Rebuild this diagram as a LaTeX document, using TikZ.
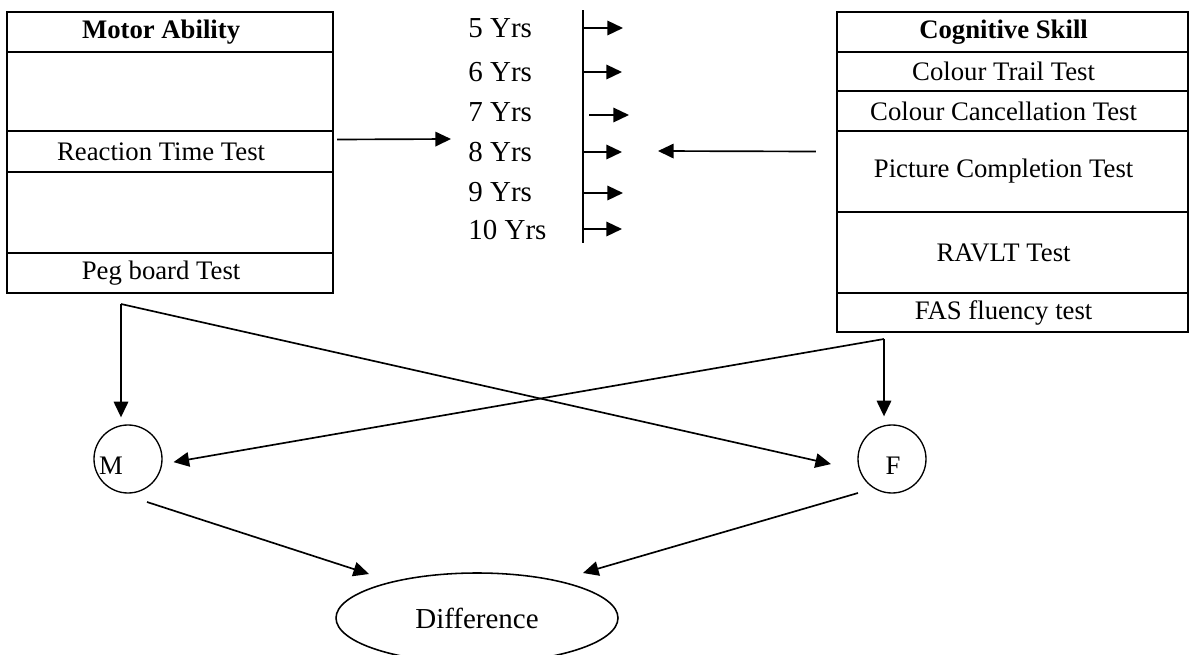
\documentclass[tikz,border=0pt]{standalone}
\usepackage{fontspec}
\setmainfont{Liberation Serif}
\usetikzlibrary{arrows.meta,shapes.geometric}
\newcommand{\pxu}{0.449pt}

\begin{document}
\begin{tikzpicture}[x=\pxu, y=-\pxu,
   every node/.style={font=\fontsize{12}{14}\selectfont},
   cell/.style 2 args={draw, line width=1.1pt, inner sep=0pt,
                       minimum width=#1*\pxu, minimum height=#2*\pxu,
                       execute at end node={\hspace{8pt}}},
   circ/.style={draw, circle, line width=0.6pt, inner sep=0pt, minimum size=68*\pxu},
   ell/.style={draw, ellipse, line width=0.7pt, inner sep=0pt,
               minimum width=282*\pxu, minimum height=90*\pxu,
               font=\fontsize{13}{15}\selectfont},
   arr/.style={-{Triangle[length=7pt,width=6.5pt]}, line width=0.75pt}]

\useasboundingbox (0,0) rectangle (1191,655);

% motor ability table
\node[cell={326}{40}] (motor) at (170,32) {\textbf{Motor Ability}};
\node[cell={326}{79}] (motA) at (170,91.5) {};
\node[cell={326}{41}] (react) at (170,151.5) {Reaction Time Test};
\node[cell={326}{81}] (motB) at (170,212.5) {};
\node[cell={326}{40}] (peg) at (170,273) {Peg board Test};

% cognitive skill table
\node[cell={351}{40}] (cog) at (1012.5,32) {\textbf{Cognitive Skill}};
\node[cell={351}{39}] (trail) at (1012.5,71.5) {Colour Trail Test};
\node[cell={351}{40}] (cancel) at (1012.5,111) {Colour Cancellation Test};
\node[cell={351}{81}] (pict) at (1012.5,171.5) {Picture Completion Test};
\node[cell={351}{81}] (ravlt) at (1012.5,252.5) {RAVLT Test};
\node[cell={351}{39}] (fas) at (1012.5,312.5) {FAS fluency test};

% age groups
\coordinate (axT) at (583,10);
\coordinate (axB) at (583,243);
\draw[line width=0.9pt] (axT) -- (axB);
\foreach \n/\yl/\ya/\xs/\xe in {5/28/28/583/623, 6/72/72/583/622, 7/112/115/589/629,
                               8/152/152/582/622, 9/192/193/583/623, 10/230/229/583/622}{
  \node[anchor=west, inner sep=0pt, font=\fontsize{13}{15}\selectfont] (yr\n) at (468,\yl) {\n\ Yrs};
  \coordinate (s\n) at (\xs,\ya);
  \coordinate (e\n) at (\xe,\ya);
  \draw[arr] (s\n) -- (e\n);
}

\coordinate (midL) at (451,139);
\coordinate (midR) at (658,151);
\draw[arr] ([shift={(3,-12)}]react.east) -- (midL);
\draw[arr] ([shift={(-20,-20)}]pict.west) -- (midR);

% gender and difference
\node[circ, label={[shift={(-17,7)}]center:M}] (M) at (128,459) {};
\node[circ, label={[shift={(1,7)}]center:F}] (F) at (892,459) {};
\node[ell] (diff) at (477,618) {Difference};

\coordinate (jL) at (121,304);
\coordinate (jR) at (884,339);
\draw[arr, shorten >=7*\pxu] (jL) -- (jL |- M.north);
\draw[arr, shorten >=8*\pxu] (jR) -- (jR |- F.north);
\draw[arr, shorten >=27*\pxu] (jL) -- ([shift={(0,11)}]F.west);
\draw[arr, shorten >=11*\pxu] (jR) -- ([shift={(0,5)}]M.east);
\draw[arr] ([shift={(19,43)}]M.center) -- ([shift={(-108,-44)}]diff.center);
\draw[arr] ([shift={(-34,34)}]F.center) -- ([shift={(106,-45)}]diff.center);

\end{tikzpicture}
\end{document}
